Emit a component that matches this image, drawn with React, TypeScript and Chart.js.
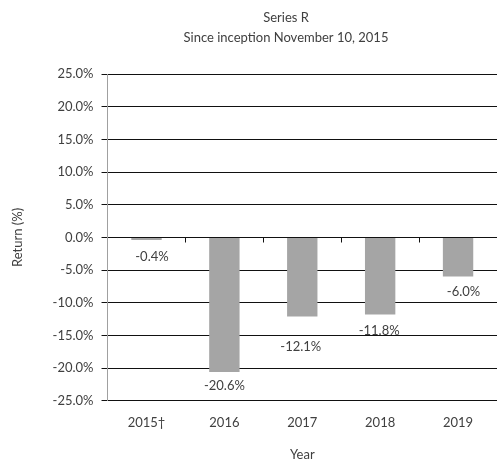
import React, { useEffect, useRef } from "react";
import { Chart, registerables } from "chart.js";

Chart.register(...registerables);

const titleLines = ["Series R", "Since inception November 10, 2015"];
const categories = ["2015\u2020", "2016", "2017", "2018", "2019"];
const returns = [-0.4, -20.6, -12.1, -11.8, -6.0];
const yTicks = [-25, -20, -15, -10, -5, 0, 5, 10, 15, 20, 25];
const xTitle = "Year";
const yTitle = "Return (%)";

// label placement styles (pixel nudges, not data)
const labelShiftX = [5.5, 0, -1.5, -1, 5.5];
const labelShiftY = [17, 14, 30, 16, 15];

const FONT = "Lato, 'Open Sans', sans-serif";
const TEXT = "#404040";

export default function App() {
  const ref = useRef<HTMLCanvasElement | null>(null);
  useEffect(() => {
    document.body.style.margin = "0";
    const canvas = ref.current!;
    const plugin = {
      id: "custom",
      afterDraw(chart: any) {
        const ctx = chart.ctx;
        const x = chart.scales.x;
        const y = chart.scales.y;
        ctx.save();
        // title
        ctx.fillStyle = TEXT;
        ctx.font = `13px ${FONT}`;
        ctx.textAlign = "center";
        ctx.textBaseline = "middle";
        const cx = 286;
        ctx.fillText(titleLines[0], cx, 18);
        ctx.fillText(titleLines[1], cx, 38);
        // tick marks at zero line
        const y0 = Math.round(y.getPixelForValue(0)) + 0.5;
        ctx.strokeStyle = "#111";
        ctx.lineWidth = 1;
        for (let i = 1; i < categories.length; i++) {
          const px = Math.round((x.getPixelForValue(i - 1) + x.getPixelForValue(i)) / 2) + 0.5;
          ctx.beginPath();
          ctx.moveTo(px, y0);
          ctx.lineTo(px, y0 + 5);
          ctx.stroke();
        }
        // data labels
        const meta = chart.getDatasetMeta(0);
        ctx.fillStyle = TEXT;
        ctx.font = `13px ${FONT}`;
        meta.data.forEach((el: any, i: number) => {
          const v = returns[i];
          ctx.fillText(v.toFixed(1) + "%", el.x + labelShiftX[i], el.y + labelShiftY[i]);
        });
        ctx.restore();
      },
    };
    const chart = new Chart(canvas, {
      type: "bar",
      data: {
        labels: categories,
        datasets: [
          {
            data: returns,
            backgroundColor: "#a5a5a5",
            borderWidth: 0,
            barPercentage: 0.39,
            categoryPercentage: 1,
          },
        ],
      },
      options: {
        animation: false,
        responsive: false,
        maintainAspectRatio: false,
        layout: { padding: { top: 74, right: 1, bottom: -3, left: 0 } },
        plugins: {
          legend: { display: false },
          tooltip: { enabled: false },
          title: { display: false },
        },
        scales: {
          x: {
            grid: { display: false, drawTicks: false },
            border: { display: false },
            ticks: { color: TEXT, font: { family: FONT, size: 13 }, padding: 14 },
            title: {
              display: true,
              text: xTitle,
              color: TEXT,
              font: { family: FONT, size: 13 },
              padding: { top: 3, bottom: 0 },
            },
          },
          y: {
            min: -25,
            max: 25,
            afterBuildTicks(scale: any) {
              scale.ticks = yTicks.map((v) => ({ value: v }));
            },
            grid: { color: "#111", tickColor: "#111", tickLength: 6, lineWidth: 1 },
            border: { display: true, color: "#a0a0a0" },
            ticks: {
              color: TEXT,
              font: { family: FONT, size: 13 },
              padding: 8,
              callback: (v: any) => Number(v).toFixed(1) + "%",
            },
            title: {
              display: true,
              text: yTitle,
              color: TEXT,
              font: { family: FONT, size: 13 },
              padding: { top: 10, bottom: 19 },
            },
          },
        },
      },
      plugins: [plugin],
    });
    return () => chart.destroy();
  }, []);
  return <canvas ref={ref} width={498} height={460} style={{ display: "block" }} />;
}
